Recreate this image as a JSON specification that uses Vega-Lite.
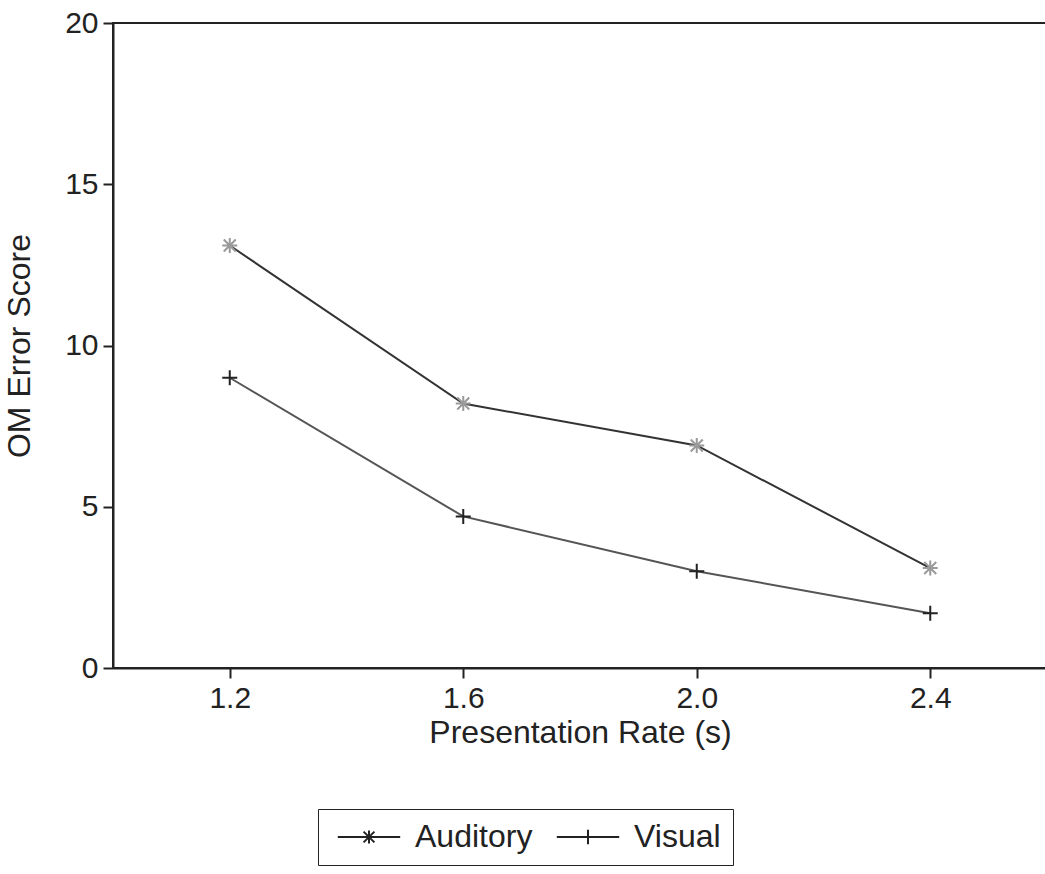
{
  "$schema": "https://vega.github.io/schema/vega-lite/v6.json",
  "width": 934,
  "height": 645,
  "autosize": {"type": "none"},
  "padding": {"left": 113, "top": 23, "right": 0, "bottom": 206},
  "background": "white",
  "config": {
    "font": "Liberation Sans",
    "view": {"stroke": "#222", "strokeWidth": 2},
    "axis": {
      "grid": false,
      "domainColor": "#222",
      "domainWidth": 2,
      "tickColor": "#222",
      "tickWidth": 2,
      "tickSize": 10,
      "labelFont": "Liberation Sans",
      "labelFontSize": 30,
      "labelColor": "#222",
      "titleFont": "Liberation Sans",
      "titleFontSize": 32,
      "titleFontWeight": "normal",
      "titleColor": "#222"
    }
  },
  "data": {
    "values": [
      {"rate": 1.2, "score": 13.1, "modality": "Auditory"},
      {"rate": 1.6, "score": 8.2, "modality": "Auditory"},
      {"rate": 2.0, "score": 6.9, "modality": "Auditory"},
      {"rate": 2.4, "score": 3.1, "modality": "Auditory"},
      {"rate": 1.2, "score": 9.0, "modality": "Visual"},
      {"rate": 1.6, "score": 4.7, "modality": "Visual"},
      {"rate": 2.0, "score": 3.0, "modality": "Visual"},
      {"rate": 2.4, "score": 1.7, "modality": "Visual"}
    ]
  },
  "encoding": {
    "x": {
      "field": "rate",
      "type": "quantitative",
      "scale": {"domain": [1.0, 2.6], "nice": false, "zero": false},
      "axis": {
        "values": [1.2, 1.6, 2.0, 2.4],
        "format": ".1f",
        "labelPadding": 5,
        "title": "Presentation Rate (s)",
        "titlePadding": 4
      }
    },
    "y": {
      "field": "score",
      "type": "quantitative",
      "scale": {"domain": [0, 20], "nice": false},
      "axis": {
        "values": [0, 5, 10, 15, 20],
        "labelPadding": 5,
        "title": "OM Error Score",
        "titlePadding": 28
      }
    }
  },
  "layer": [
    {
      "mark": {"type": "line", "strokeWidth": 2},
      "encoding": {
        "color": {
          "field": "modality",
          "type": "nominal",
          "scale": {"domain": ["Auditory", "Visual"], "range": ["#333333", "#555555"]},
          "legend": null
        }
      }
    },
    {
      "mark": {"type": "point", "filled": false, "strokeWidth": 2, "size": 225, "opacity": 1},
      "encoding": {
        "stroke": {
          "field": "modality",
          "type": "nominal",
          "scale": {"domain": ["Auditory", "Visual"], "range": ["#9a9a9a", "#222222"]},
          "legend": null
        },
        "shape": {
          "field": "modality",
          "type": "nominal",
          "scale": {
            "domain": ["Auditory", "Visual"],
            "range": [
              "M-0.8,-0.8L0.8,0.8M-0.8,0.8L0.8,-0.8M0,-1V1M-1,0H1",
              "M0,-1V1M-1,0H1"
            ]
          },
          "legend": null
        }
      }
    },
    {
      "mark": {"type": "point", "filled": false, "strokeWidth": 2, "size": 576, "opacity": 0, "color": "#222"},
      "encoding": {
        "shape": {
          "field": "modality",
          "type": "nominal",
          "scale": {
            "domain": ["Auditory", "Visual"],
            "range": [
              "M-2.6,0H2.6M-0.45,-0.45L0.45,0.45M-0.45,0.45L0.45,-0.45M0,-0.55V0.55",
              "M-2.6,0H2.6M0,-0.6V0.6"
            ]
          },
          "legend": {
            "title": null,
            "orient": "none",
            "direction": "horizontal",
            "legendX": 205,
            "legendY": 786,
            "padding": 12,
            "strokeColor": "#222",
            "symbolSize": 576,
            "symbolOpacity": 1,
            "symbolStrokeColor": "#222",
            "symbolStrokeWidth": 2,
            "symbolOffset": 23,
            "labelOffset": 30,
            "labelFont": "Liberation Sans",
            "labelFontSize": 32,
            "labelColor": "#222",
            "columnPadding": 16
          }
        }
      }
    }
  ],
  "resolve": {"scale": {"shape": "independent"}, "legend": {"shape": "independent"}}
}
